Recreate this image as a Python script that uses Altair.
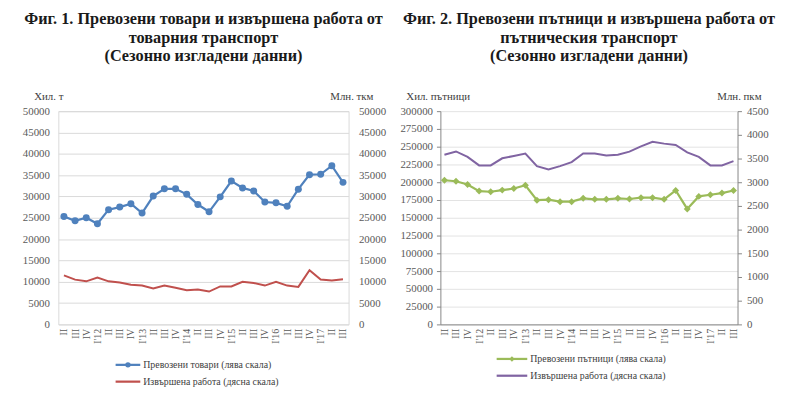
import json
import altair as alt
import pandas as pd

# ---------------- data ----------------
quarters = ["II", "III", "IV", "I'12", "II", "III", "IV", "I'13", "II", "III", "IV", "I'14",
            "II", "III", "IV", "I'15", "II", "III", "IV", "I'16", "II", "III", "IV", "I'17",
            "II", "III"]

goods_name = "Превозени товари (лява скала)"
goods_work_name = "Извършена работа (дясна скала)"
goods = [25300, 24300, 25000, 23600, 26900, 27500, 28300, 26100, 30100, 31800, 31800, 30500,
         28100, 26400, 29900, 33600, 32000, 31300, 28700, 28500, 27700, 31700, 35100, 35200,
         37200, 33300]
goods_work = [11500, 10500, 10100, 11000, 10100, 9800, 9300, 9100, 8400, 9100, 8600, 8000,
              8200, 7700, 8900, 8900, 10000, 9700, 9100, 10000, 9100, 8800, 12700, 10500,
              10300, 10600]

pass_name = "Превозени пътници (лява скала)"
pass_work_name = "Извършена работа (дясна скала)"
passengers = [202800, 201400, 196800, 187500, 186600, 188900, 191200, 195800, 174800, 175500,
              172700, 172700, 177300, 176000, 176000, 177300, 176400, 178200, 178200, 176000,
              188400, 162500, 180100, 182400, 184700, 188400]
pass_work = [3580, 3650, 3535, 3355, 3355, 3505, 3555, 3605, 3340, 3270, 3340, 3425,
             3605, 3605, 3565, 3580, 3645, 3755, 3855, 3815, 3785, 3630, 3535, 3355,
             3355, 3445]

titles_left = ["Фиг. 1. Превозени товари и извършена работа от", "товарния транспорт",
               "(Сезонно изгладени данни)"]
titles_right = ["Фиг. 2. Превозени пътници и извършена работа от", "пътническия транспорт",
                "(Сезонно изгладени данни)"]

BLUE, RED, GREEN, PURPLE = "#4f81bd", "#c0504d", "#9bbb59", "#8064a2"
FONT = "Liberation Serif"

label_expr = json.dumps(quarters) + "[datum.value]"


def long_df(a_vals, b_vals):
    rows = []
    for i, v in enumerate(a_vals):
        rows.append({"idx": i, "series": "A", "value": v})
    for i, v in enumerate(b_vals):
        rows.append({"idx": i, "series": "B", "value": v})
    return pd.DataFrame(rows)


df_left = long_df(goods, goods_work)
df_right = long_df(passengers, pass_work)
legend_df = pd.DataFrame({"series": ["A", "B"]})


def panel(df, names, colors, marker, marker_size, ldom, lstep, rdom, rstep,
          ltitle, rtitle, ltx, rtx, width, pad, boxed, leg_x, leg_y, leg_len, title_lines):
    color = alt.Color("series:N", scale=alt.Scale(domain=["A", "B"], range=colors), legend=None)
    xax = alt.Axis(labelExpr=label_expr, labelAngle=270, ticks=False, grid=False,
                   domain=not boxed, domainColor="#868686", labelPadding=4,
                   labelFontSize=10, title=None)
    x = alt.X("idx:O", scale=alt.Scale(type="point", padding=pad), axis=xax)
    yl_axis = alt.Axis(values=list(range(ldom[0], ldom[1] + 1, lstep)), format="d", grid=True,
                       gridColor="#d9d9d9" if boxed else "#e3e3e3",
                       ticks=not boxed, tickSize=4, tickColor="#868686",
                       domain=not boxed, domainColor="#868686",
                       labelPadding=9 if boxed else 4,
                       title=ltitle, titleAngle=0, titleX=ltx, titleY=-10,
                       titleAlign="left", titleBaseline="bottom", orient="left")
    yr_axis = alt.Axis(values=list(range(rdom[0], rdom[1] + 1, rstep)), format="d", grid=False,
                       ticks=not boxed, tickSize=4, tickColor="#868686",
                       domain=not boxed, domainColor="#868686",
                       labelPadding=10 if boxed else 5,
                       title=rtitle, titleAngle=0, titleX=rtx, titleY=-10,
                       titleAlign="left", titleBaseline="bottom", orient="right")
    base = alt.Chart(df).encode(x=x, color=color)
    a = base.transform_filter(alt.datum.series == "A")
    ya = alt.Y("value:Q", scale=alt.Scale(domain=ldom), axis=yl_axis)
    line_a = a.mark_line(strokeWidth=2.25).encode(y=ya)
    pts_a = a.mark_point(filled=True, opacity=1, shape=marker, size=marker_size).encode(y=ya)
    line_b = base.transform_filter(alt.datum.series == "B").mark_line(strokeWidth=2).encode(
        y=alt.Y("value:Q", scale=alt.Scale(domain=rdom), axis=yr_axis))

    lb = alt.Chart(legend_df).encode(color=color)
    leg = []
    for k, key in enumerate(["A", "B"]):
        yv = leg_y + k * 17
        sub = lb.transform_filter(alt.datum.series == key)
        leg.append(sub.mark_rule(strokeWidth=2.25).encode(
            x=alt.value(leg_x), x2=alt.value(leg_x + leg_len), y=alt.value(yv)))
        if key == "A":
            leg.append(sub.mark_point(filled=True, opacity=1, shape=marker,
                                      size=marker_size * 0.6).encode(
                x=alt.value(leg_x + leg_len / 2), y=alt.value(yv)))
        leg.append(alt.Chart(pd.DataFrame({"t": [names[k]]})).mark_text(
            align="left", baseline="middle", font=FONT, fontSize=10, color="#404040").encode(
            text="t:N", x=alt.value(leg_x + leg_len + 3), y=alt.value(yv)))

    view = alt.ViewBackground(stroke="#d9d9d9" if boxed else "transparent")
    ch = alt.layer(alt.layer(line_a, pts_a), line_b, *leg).resolve_scale(y="independent")
    return ch.properties(width=width, height=216, view=view,
                         title=alt.Title(title_lines, anchor="middle", offset=26))


left = panel(df_left, [goods_name, goods_work_name], [BLUE, RED], "circle", 50,
             [0, 50000], 5000, [0, 50000], 5000, "Хил. т", "Млн. ткм", -25, -19,
             294, 0.5, True, 58, 257, 25, titles_left)
right = panel(df_right, [pass_name, pass_work_name], [GREEN, PURPLE], "diamond", 50,
              [0, 300000], 25000, [0, 4500], 500, "Хил. пътници", "Млн. пкм", -35, -21,
              301, 0.35, False, 57, 251, 31, titles_right)

chart = alt.hconcat(left, right, spacing=13).resolve_scale(color="independent").properties(
    padding={"left": 14, "top": 0, "right": 2, "bottom": 2}
).configure_axis(
    labelFont=FONT, labelFontSize=11, labelColor="#595959",
    titleFont=FONT, titleFontSize=11, titleColor="#404040", titleFontWeight="normal"
).configure_title(
    font=FONT, fontSize=16.5, fontWeight="bold", color="#1a1a1a", lineHeight=19
)

chart.save("out.html", embed_options={"renderer": "svg", "actions": False})
